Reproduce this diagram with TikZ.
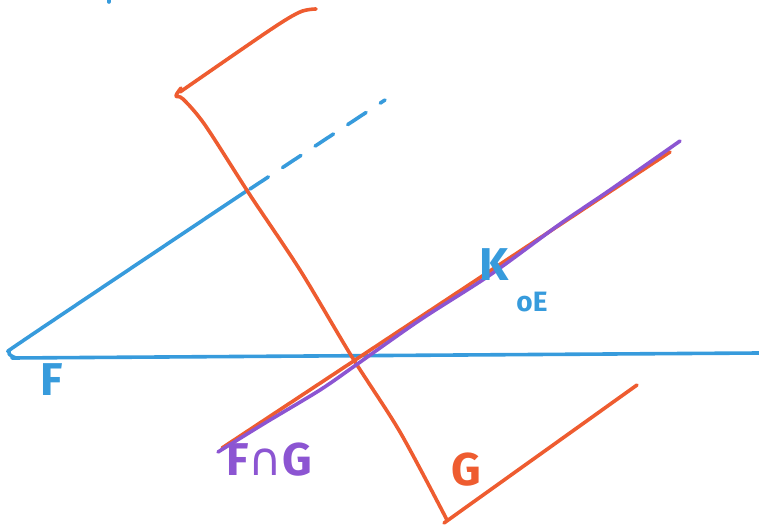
\documentclass[tikz,border=0pt]{standalone}
\usepackage{fontspec}
\setsansfont{Fira Sans}
\newfontfamily\symbolfont{DejaVu Sans}
\definecolor{skyblue}{RGB}{55,155,220}
\definecolor{redorange}{RGB}{238,92,48}
\definecolor{violet}{RGB}{140,85,210}
\begin{document}
\begin{tikzpicture}[x=1pt,y=-1pt,line cap=round,line join=round,line width=3.6pt,
  lbl/.style={font=\sffamily\bfseries\fontsize{46}{46}\selectfont}]
  \useasboundingbox (0,0) rectangle (759,529);
  % plane F
  \draw[skyblue] (12,358) -- (759,353);
  \draw[skyblue] plot[smooth] coordinates {(16,358) (9,352) (30,336) (248,190)};
  \draw[skyblue,dash pattern=on 22pt off 17pt] (250,189) -- (385,100);
  \draw[skyblue] (109,0) -- (109,2);
  % plane G
  \draw[redorange] plot[smooth] coordinates {(316,9) (300,12) (270,30) (180,92)};
  \draw[redorange] plot[smooth] coordinates {(181,88) (176,96) (183,99) (205,125) (250,195) (300,270) (352,357) (400,432) (447,520)};
  \draw[redorange] (444,523) -- (637,385);
  % intersection line
  \draw[redorange] (222,448) -- (670,152);
  \draw[violet] plot[smooth] coordinates {(218,452) (265,423) (320,390) (356,365) (420,320) (490,275) (560,224) (610,190) (680,141)};
  % labels
  \node[lbl,text=skyblue] (fLabel) at (52,380) {F};
  \node[lbl,text=skyblue] (kLabel) at (494,265) {K};
  \node[lbl,text=skyblue,font=\sffamily\bfseries\fontsize{28}{28}\selectfont] (oeLabel) at (532,302) {oE};
  \node[lbl,text=violet] (fgLabel) at (269,460) {F{\symbolfont\mdseries ∩}G};
  \node[lbl,text=redorange] (gLabel) at (466,470) {G};
\end{tikzpicture}
\end{document}
